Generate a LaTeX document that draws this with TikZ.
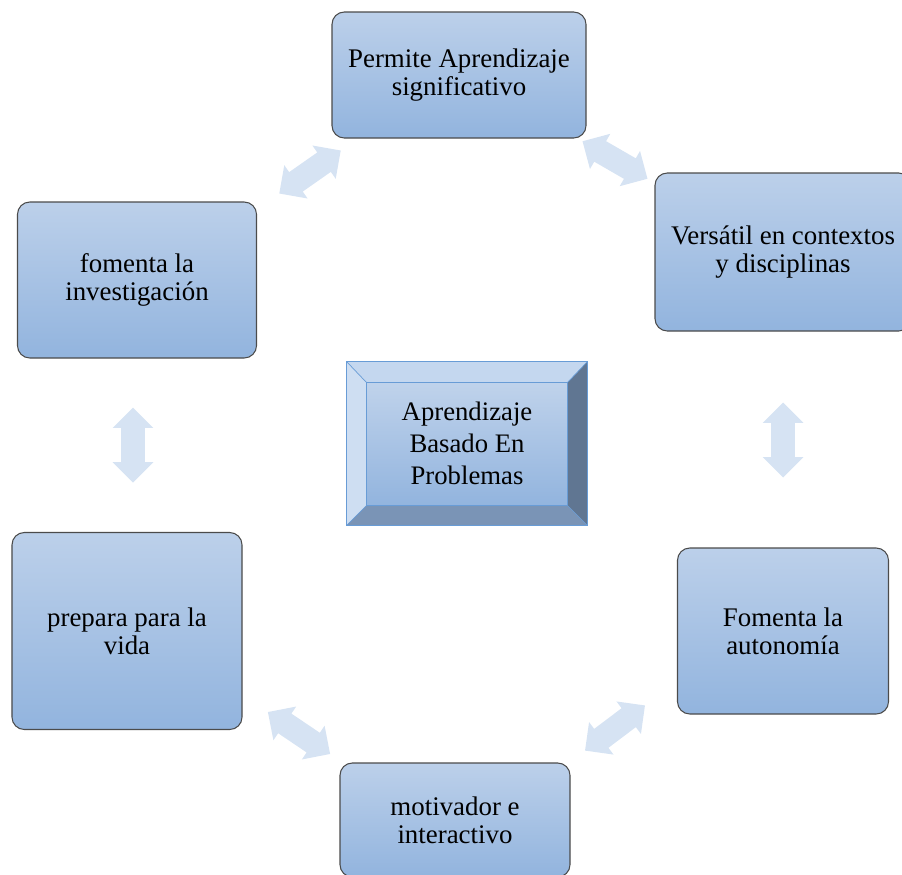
\documentclass[tikz,border=0pt]{standalone}
\usepackage{fontspec}
\setmainfont{Liberation Serif}
\usetikzlibrary{calc,shapes.arrows}
\definecolor{box_top}{RGB}{188,208,234}
\definecolor{box_bottom}{RGB}{146,180,222}
\definecolor{box_line}{RGB}{75,75,75}
\definecolor{arrow_fill}{RGB}{214,227,243}
\definecolor{bevel_top}{RGB}{196,215,239}
\definecolor{bevel_left}{RGB}{206,222,242}
\definecolor{bevel_right}{RGB}{96,118,146}
\definecolor{bevel_low}{RGB}{122,148,182}
\definecolor{bevel_line}{RGB}{104,156,214}

\begin{document}
\begin{tikzpicture}[x=0.2mm,y=-0.2mm,
        idea/.style={draw=box_line,line width=0.6pt,rounded corners=7pt,
            top color=box_top,bottom color=box_bottom,align=center,
            inner sep=0pt,font=\fontsize{15.3}{16}\selectfont},
        link/.style={double arrow,double arrow head extend=1.7mm,fill=arrow_fill,
            draw=none,inner xsep=0pt,inner ysep=2.3mm,minimum width=0pt,minimum height=15mm}]
        \useasboundingbox (0,0) rectangle (902,874);

        % ideas around the centre
        \node[idea,minimum width=50.8mm,minimum height=25.2mm] (signif) at (459,75) {Permite Aprendizaje\\significativo};
        \node[idea,minimum width=51.2mm,minimum height=31.6mm] (versatil) at (783,252) {Vers\'atil en contextos\\y disciplinas};
        \node[idea,minimum width=42.2mm,minimum height=33.2mm] (autonomia) at (783,631) {Fomenta la\\autonom\'ia};
        \node[idea,minimum width=46mm,minimum height=22.8mm] (motivador) at (455,820) {motivador e\\interactivo};
        \node[idea,minimum width=46mm,minimum height=39.4mm] (vida) at (127,631) {prepara para la\\vida};
        \node[idea,minimum width=47.8mm,minimum height=31.2mm] (investiga) at (137,280) {fomenta la\\investigaci\'on};

        % centre
        \node[minimum width=48mm,minimum height=32.6mm,inner sep=0pt] (abp) at (467,443.5) {};
        \coordinate (in_nw) at ($(abp.north west)+(20,21)$);
        \coordinate (in_ne) at ($(abp.north east)+(-20,21)$);
        \coordinate (in_sw) at ($(abp.south west)+(20,-20)$);
        \coordinate (in_se) at ($(abp.south east)+(-20,-20)$);
        \fill[bevel_top] (abp.north west) -- (abp.north east) -- (in_ne) -- (in_nw) -- cycle;
        \fill[bevel_left] (abp.north west) -- (in_nw) -- (in_sw) -- (abp.south west) -- cycle;
        \fill[bevel_right] (abp.north east) -- (abp.south east) -- (in_se) -- (in_ne) -- cycle;
        \fill[bevel_low] (abp.south west) -- (in_sw) -- (in_se) -- (abp.south east) -- cycle;
        \shade[top color=box_top!95!white,bottom color=box_bottom] (in_nw) rectangle (in_se);
        \draw[bevel_line,line width=0.6pt] (abp.north west) rectangle (abp.south east);
        \draw[bevel_line,line width=0.6pt] (in_nw) rectangle (in_se);
        \draw[bevel_line,line width=0.4pt] (abp.north west) -- (in_nw) (abp.north east) -- (in_ne)
            (abp.south west) -- (in_sw) (abp.south east) -- (in_se);
        \node[align=center,font=\fontsize{15.2}{18.4}\selectfont] (abp_text) at (abp) {Aprendizaje\\Basado En\\Problemas};

        % double arrows between the ideas
        \node[link,rotate=35] (arr_a) at (310,172) {};
        \node[link,rotate=-30] (arr_b) at (615,160) {};
        \node[link,rotate=90] (arr_c) at (783,440) {};
        \node[link,rotate=37] (arr_d) at (615,728) {};
        \node[link,rotate=-34] (arr_e) at (299,733) {};
        \node[link,rotate=90] (arr_f) at (133,445) {};
    \end{tikzpicture}
\end{document}
